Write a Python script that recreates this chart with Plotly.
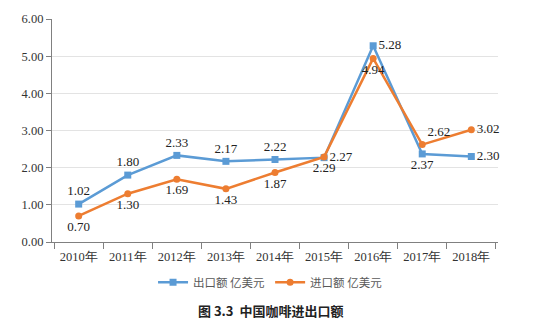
import plotly.graph_objects as go

years = ["2010年", "2011年", "2012年", "2013年", "2014年", "2015年", "2016年", "2017年", "2018年"]
export_vals = [1.02, 1.80, 2.33, 2.17, 2.22, 2.27, 5.28, 2.37, 2.30]
import_vals = [0.70, 1.30, 1.69, 1.43, 1.87, 2.29, 4.94, 2.62, 3.02]
export_pos = ["top center", "top center", "top center", "top center", "top center",
              "middle right", "middle right", "bottom center", "middle right"]
import_pos = ["bottom center", "bottom center", "bottom center", "bottom center", "bottom center",
              "bottom center", "bottom center", "top right", "middle right"]
y_ticks = [0, 1, 2, 3, 4, 5, 6]

num_font = dict(family="Liberation Serif", size=13, color="#222222")

fig = go.Figure()
fig.add_trace(go.Scatter(
    x=years, y=export_vals, name="出口额 亿美元",
    mode="lines+markers+text",
    line=dict(color="#5B9BD5", width=2.5),
    marker=dict(symbol="square", size=7, color="#5B9BD5"),
    text=[f"{v:.2f}" for v in export_vals], textposition=export_pos,
    textfont=num_font, cliponaxis=False,
))
fig.add_trace(go.Scatter(
    x=years, y=import_vals, name="进口额 亿美元",
    mode="lines+markers+text",
    line=dict(color="#ED7D31", width=2.5),
    marker=dict(symbol="circle", size=7, color="#ED7D31"),
    text=[f"{v:.2f}" for v in import_vals], textposition=import_pos,
    textfont=num_font, cliponaxis=False,
))

fig.update_layout(
    width=533, height=331,
    margin=dict(l=52, r=35, t=13, b=89),
    paper_bgcolor="white", plot_bgcolor="white",
    showlegend=True,
    legend=dict(orientation="h", x=0.49, xanchor="center", y=-0.115, yanchor="top",
                font=dict(family="Noto Sans CJK SC", size=11.5, color="#595959"),
                itemwidth=30, tracegroupgap=0),
    annotations=[dict(text="<b>图 3.3  中国咖啡进出口额</b>", xref="paper", yref="paper",
                      x=0.49, y=-0.255, xanchor="center", yanchor="top", showarrow=False,
                      font=dict(family="Noto Sans CJK SC", size=13, color="#222222"))],
)
fig.update_xaxes(
    showline=True, linecolor="#808080", linewidth=1.2,
    ticks="outside", ticklen=6, tickcolor="#808080", tickson="boundaries",
    ticklabelstandoff=3,
    tickfont=dict(family="Liberation Serif", size=12.5, color="#333333"),
    showgrid=False,
)
fig.update_yaxes(
    range=[0, 6], tickvals=y_ticks, ticktext=[f"{v:.2f}" for v in y_ticks],
    showline=True, linecolor="#808080", linewidth=1.2,
    ticks="outside", ticklen=5, tickcolor="#808080",
    showgrid=True, gridcolor="#E3E3E3", gridwidth=1,
    tickfont=dict(family="Liberation Serif", size=12.5, color="#333333"),
    zeroline=False,
)

fig.write_html("out.html")
